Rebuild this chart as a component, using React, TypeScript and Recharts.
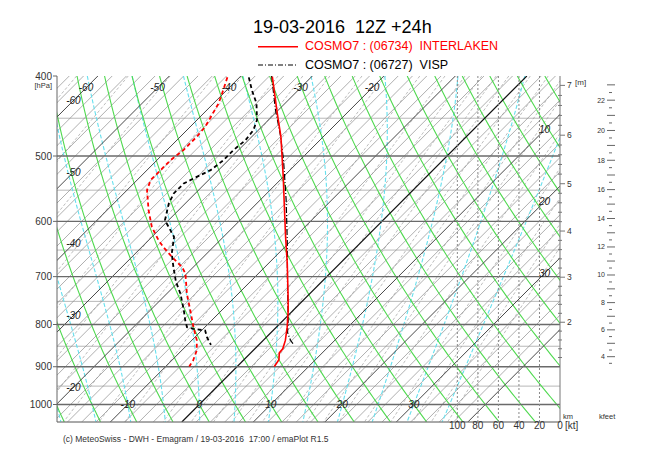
import React from "react";
import { ComposedChart, Line, XAxis, YAxis, ReferenceLine, Scatter } from "recharts";

// soundings: pressure (hPa) / temperature (°C)
const intTempP = [400.8, 443.9, 474.1, 530, 570.3, 626.6, 674.3, 733.3, 768.9, 805.9, 836.3, 856, 866, 882.7, 899.5];
const intTempT = [-35.5, -29.7, -25.9, -20.0, -16.2, -11.3, -7.4, -3.1, -0.7, 1.5, 3.1, 3.9, 4.0, 4.9, 5.2];
const intDewP = [401.5, 416, 431.7, 460.9, 474, 491.8, 505.8, 520.1, 534.8, 550, 581.5, 609.4, 632.5, 644.4, 662.6, 681.4, 694, 734, 768.9, 806, 836, 860, 884.4, 899.5];
const intDewT = [-41.7, -40.5, -39.3, -37.9, -37.7, -37.7, -38.1, -38.1, -38.1, -37.2, -34.2, -31.4, -28.6, -27.0, -24.4, -21.6, -20.2, -17.2, -14.4, -11.6, -9.3, -7.9, -7.0, -6.7];
const vispTempP = [400, 439.9, 471.9, 505.8, 565, 632.5, 709.9, 790.8, 818, 836, 846.6];
const vispTempT = [-35.7, -30.4, -26.2, -22.3, -16.4, -10.6, -4.8, 0.7, 2.3, 3.8, 4.9];
const vispDewP = [401.5, 416, 431.7, 452.3, 465.1, 478.3, 491.8, 505.8, 520.1, 530, 539.8, 555.1, 570.8, 598.1, 626.6, 656.4, 681.4, 709.9, 734, 768.9, 790.8, 806, 809.7, 813.5, 829, 846.6];
const vispDewT = [-38.7, -36.5, -34.0, -31.6, -30.7, -30.4, -30.7, -30.7, -31.1, -32.1, -33.0, -33.0, -32.3, -30.5, -26.9, -24.9, -22.8, -20.4, -18.1, -15.3, -13.7, -12.5, -11.4, -9.5, -8.3, -6.7];

// diagram furniture
const pTicks = [400, 500, 600, 700, 800, 900, 1000];
const isobarsMinor = [450, 550, 650, 750, 850, 950, 1050];
const isobarsMajor = [500, 600, 700, 800, 900, 1000];
const isothermsMajor = [-70, -60, -50, -40, -30, -20, -10, 10, 20, 30, 40];
const dryAdiabats = [-30, -25, -20, -15, -10, -5, 0, 5, 10, 15, 20, 25, 30, 35, 40, 45, 50, 55, 60, 65, 70, 75, 80, 85, 90];
const moistAdiabats = [-20, -15, -10, -5, 0, 5, 10, 15, 20, 25, 30, 35];
const mixingRatios = [0.02, 0.05, 0.1, 0.2, 0.3, 0.5, 0.7, 1, 1.5, 2, 3, 4, 5, 6, 7, 8, 10, 12, 14, 16, 20, 25, 30, 35, 40];
const windTicks = [0, 20, 40, 60, 80, 100];
const windLines = [20, 40, 60, 80, 100];
const leftLabels = [-20, -30, -40, -50, -60];
const topLabels = [-60, -50, -40, -30, -20];
const rightLabels = [10, 20, 30];
const bottomLabels = [-10, 0, 10, 20, 30];

const SKEW = 50;
const X_MIN = -19.9;
const X_MAX = 50.45;
const KT_MAX = 490;

const range = (a: number, b: number, s: number) => {
  const out: number[] = [];
  for (let v = a; v <= b + 1e-9; v += s) out.push(Math.round(v * 100) / 100);
  return out;
};
const pLevels = range(400, 1050, 10);
const skewX = (t: number, p: number) => t + SKEW * Math.log(1000 / p);
const windX = (kt: number) => X_MAX - (kt * (X_MAX - X_MIN)) / KT_MAX;
const isaP = (m: number) => 1013.25 * Math.pow(1 - 2.25577e-5 * m, 5.25588);

const kmTicks = range(1.2, 7, 0.2).map((h) => ({ h, p: isaP(h * 1000) }));
const kftTicks = range(3.5, 23, 0.5).map((h) => ({ h, p: isaP(h * 304.8) }));

type Pt = { x: number; p: number | null };
const join = (curves: Pt[][]) => curves.flatMap((c) => [...c, { x: c[c.length - 1].x, p: null }]);

const isoLine = (t: number): Pt[] => [
  { x: skewX(t, 1050), p: 1050 },
  { x: skewX(t, 400), p: 400 },
];

const dryLine = (th: number): Pt[] =>
  pLevels.map((p) => ({ x: skewX((th + 273.15) * Math.pow(p / 1000, 0.2857) - 273.15, p), p }));

const es = (tk: number) => {
  const t = tk - 273.15;
  return 6.112 * Math.exp((17.67 * t) / (t + 243.5));
};
const dTdp = (p: number, tk: number) => {
  const e = es(tk);
  const rs = (0.622 * e) / (p - e);
  return (287.04 * tk + 2.501e6 * rs) / (p * (1005.7 + (2.501e6 * 2.501e6 * rs * 0.622) / (287.04 * tk * tk)));
};
const moistLine = (thw: number): Pt[] => {
  const vals = new Map<number, number>();
  let t = thw + 273.15;
  vals.set(1000, t);
  for (let p = 1000; p > 400; p -= 1) {
    t -= dTdp(p - 0.5, t);
    if ((p - 1) % 10 === 0) vals.set(p - 1, t);
  }
  t = thw + 273.15;
  for (let p = 1000; p < 1050; p += 1) {
    t += dTdp(p + 0.5, t);
    if ((p + 1) % 10 === 0) vals.set(p + 1, t);
  }
  return pLevels.map((p) => ({ x: skewX((vals.get(p) as number) - 273.15, p), p }));
};

const mixLine = (w: number): Pt[] =>
  pLevels.map((p) => {
    const e = ((w / 1000) * p) / (0.622 + w / 1000);
    const l = Math.log(e / 6.112);
    return { x: skewX((243.5 * l) / (17.67 - l), p), p };
  });

const profile = (ps: number[], ts: number[]) => ps.map((p, i) => ({ x: skewX(ts[i], p), p }));

const minorIsotherms = join(range(-70, 40, 2).filter((t) => t % 10 !== 0).map(isoLine));
const majorIsotherms = join(isothermsMajor.map(isoLine));
const zeroIsotherm = isoLine(0);
const dryData = join(dryAdiabats.map(dryLine));
const moistData = join(moistAdiabats.map(moistLine));
const mixData = join(mixingRatios.map(mixLine));
const windData = join(
  windLines.map((kt) => [
    { x: windX(kt), p: 400 },
    { x: windX(kt), p: 1050 },
  ])
);
const windAnchor = windTicks.map((w) => ({ w, p: 1050 }));

const labelData = [
  ...leftLabels.map((t) => ({ label: String(t), x: -17.6, p: 1000 * Math.exp(-(-17.6 - t) / SKEW) })),
  ...topLabels.map((t) => ({ label: String(t), x: skewX(t, 413.5), p: 413.5 })),
  ...rightLabels.map((t) => ({ label: String(t), x: 48.3, p: 1000 * Math.exp(-(48.3 - t) / SKEW) })),
  ...bottomLabels.map((t) => ({ label: String(t), x: t, p: 1000 })),
];

const PTick = (props: any) => {
  const { x, y, payload } = props;
  return (
    <g>
      <text x={x} y={y} dy="0.35em" textAnchor="end" fontSize={10} fill="#333">{payload.value}</text>
      {payload.value === 400 && (
        <text x={x} y={y + 9} dy="0.35em" textAnchor="end" fontSize={7.5} fill="#333">[hPa]</text>
      )}
    </g>
  );
};

const KmTick = (props: any) => {
  const { x, y, payload } = props;
  const d = kmTicks.find((k) => Math.abs(k.p - payload.value) < 1e-6);
  if (!d) return null;
  const major = Math.abs(d.h - Math.round(d.h)) < 1e-6;
  return (
    <g>
      <line x1={major ? x : x - 2} x2={major ? x + 5 : x + 2} y1={y} y2={y} stroke="#777" />
      {major && (
        <text x={x + 7} y={y} dy="0.35em" fontSize={8.5} fill="#333">{Math.round(d.h)}</text>
      )}
    </g>
  );
};

const KftTick = (props: any) => {
  const { x, y, payload } = props;
  const d = kftTicks.find((k) => Math.abs(k.p - payload.value) < 1e-6);
  if (!d) return null;
  const whole = Math.abs(d.h - Math.round(d.h)) < 1e-6;
  const labeled = whole && Math.round(d.h) % 2 === 0;
  return (
    <g>
      <line x1={whole ? x + 7 : x + 9} x2={whole ? x + 15 : x + 12} y1={y} y2={y} stroke="#666" />
      {labeled && (
        <text x={x + 5} y={y} dy="0.35em" textAnchor="end" fontSize={7} fill="#333">{Math.round(d.h)}</text>
      )}
    </g>
  );
};

const LabelShape = (props: any) => (
  <text x={props.cx} y={props.cy} dy="0.35em" textAnchor="middle" fontSize={10} fontStyle="italic" fill="#222">
    {props.payload.label}
  </text>
);

const lineProps = { type: "linear" as const, dot: false, activeDot: false, isAnimationActive: false, xAxisId: "t", yAxisId: "p", dataKey: "p" };

export default function App() {
  return (
    <div style={{ position: "relative", width: 634, height: 440, fontFamily: '"Liberation Sans", Arial, sans-serif' }}>
      <div style={{ position: "absolute", left: 245, top: 10, fontSize: 18, lineHeight: "18px", whiteSpace: "pre", color: "#000" }}>
        {"19-03-2016  12Z +24h"}
      </div>
      <svg style={{ position: "absolute", left: 250, top: 34 }} width={42} height={28}>
        <line x1={0} x2={40} y1={4.7} y2={4.7} stroke="#ff0000" strokeWidth={1.5} />
        <line x1={0} x2={40} y1={23} y2={23} stroke="#000" strokeWidth={1} strokeDasharray="5 2 1 2" />
      </svg>
      <div style={{ position: "absolute", left: 297, top: 31.5, fontSize: 12.5, lineHeight: "12.5px", whiteSpace: "pre", color: "#ff0000" }}>
        {"COSMO7 : (06734)  INTERLAKEN"}
      </div>
      <div style={{ position: "absolute", left: 297, top: 50.5, fontSize: 12.5, lineHeight: "12.5px", whiteSpace: "pre", color: "#000" }}>
        {"COSMO7 : (06727)  VISP"}
      </div>
      <ComposedChart width={634} height={440} margin={{ top: 68, right: 0, bottom: 6, left: 0 }}>
        <XAxis xAxisId="t" dataKey="x" type="number" domain={[X_MIN, X_MAX]} allowDataOverflow orientation="top" height={0} tick={false} tickLine={false} axisLine={{ stroke: "#666" }} />
        <XAxis xAxisId="w" dataKey="w" type="number" domain={[0, KT_MAX]} reversed allowDataOverflow orientation="bottom" height={20} ticks={windTicks} interval={0} tickLine={false} tickSize={0} tickMargin={0} axisLine={{ stroke: "#777" }} tick={{ fontSize: 10, fill: "#333" }} />
        <YAxis yAxisId="p" dataKey="p" type="number" scale="log" domain={[400, 1050]} reversed allowDataOverflow ticks={pTicks} interval={0} width={49} tickSize={4} tickMargin={1} tickLine={{ stroke: "#666" }} axisLine={{ stroke: "#666" }} tick={<PTick />} />
        <YAxis yAxisId="h1" orientation="right" type="number" scale="log" domain={[400, 1050]} reversed allowDataOverflow ticks={kmTicks.map((k) => k.p)} interval={0} width={40} tickSize={0} tickMargin={0} tickLine={false} axisLine={{ stroke: "#777" }} tick={<KmTick />} />
        <YAxis yAxisId="h2" orientation="right" type="number" scale="log" domain={[400, 1050]} reversed allowDataOverflow ticks={kftTicks.map((k) => k.p)} interval={0} width={42} tickSize={0} tickMargin={0} tickLine={false} axisLine={false} tick={<KftTick />} />

        {isobarsMinor.map((p) => (
          <ReferenceLine key={"ib" + p} xAxisId="t" yAxisId="p" y={p} stroke="#b8b8b8" strokeWidth={1} />
        ))}
        <Line {...lineProps} data={mixData} stroke="#a0a0a0" strokeWidth={0.7} strokeDasharray="3 2" />
        <Line {...lineProps} data={minorIsotherms} stroke="#8c8c8c" strokeWidth={0.7} />
        <Line {...lineProps} data={moistData} stroke="#66e0ee" strokeWidth={1.1} strokeDasharray="4 2" />
        <Line {...lineProps} data={dryData} stroke="#4fd94f" strokeWidth={1.1} />
        <Line {...lineProps} data={majorIsotherms} stroke="#484848" strokeWidth={1} />
        <Line {...lineProps} data={zeroIsotherm} stroke="#111" strokeWidth={1.2} />
        {isobarsMajor.map((p) => (
          <ReferenceLine key={"IB" + p} xAxisId="t" yAxisId="p" y={p} stroke="#6a6a6a" strokeWidth={1.3} />
        ))}
        <Line {...lineProps} data={windData} stroke="#888" strokeWidth={1} strokeDasharray="2 2" />
        <Scatter xAxisId="w" yAxisId="p" data={windAnchor} isAnimationActive={false} shape={() => <g />} />

        <Line {...lineProps} data={profile(intDewP, intDewT)} stroke="#ff0000" strokeWidth={1.8} strokeDasharray="4 3" />
        <Line {...lineProps} data={profile(vispDewP, vispDewT)} stroke="#000" strokeWidth={1.8} strokeDasharray="4 3" />
        <Line {...lineProps} data={profile(vispTempP, vispTempT)} stroke="#000" strokeWidth={1.2} strokeDasharray="6 2 1 2" />
        <Line {...lineProps} data={profile(intTempP, intTempT)} stroke="#ff0000" strokeWidth={1.6} />

        <Scatter xAxisId="t" yAxisId="p" data={labelData} isAnimationActive={false} shape={<LabelShape />} />
      </ComposedChart>
      <div style={{ position: "absolute", left: 567, top: 70, fontSize: 8, color: "#333" }}>[m]</div>
      <div style={{ position: "absolute", left: 555, top: 404, fontSize: 7.5, color: "#333" }}>km</div>
      <div style={{ position: "absolute", left: 591, top: 404, fontSize: 7.5, color: "#333" }}>kfeet</div>
      <div style={{ position: "absolute", left: 557, top: 412, fontSize: 10, color: "#333" }}>[kt]</div>
      <div style={{ position: "absolute", left: 55, top: 426, fontSize: 8.5, color: "#333", whiteSpace: "pre" }}>
        {"(c) MeteoSwiss - DWH - Emagram / 19-03-2016  17:00 / emaPlot R1.5"}
      </div>
    </div>
  );
}
